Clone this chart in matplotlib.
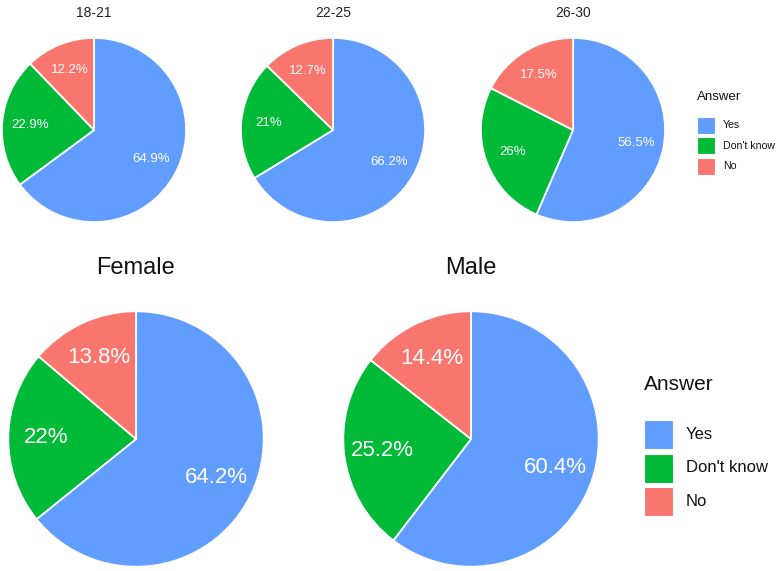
import matplotlib.pyplot as plt
from matplotlib.patches import Rectangle

plt.rcParams['font.family'] = ['Liberation Sans', 'DejaVu Sans']

answers = ["Yes", "Don't know", "No"]
colors = ["#619CFF", "#00BA38", "#F8766D"]

age_groups = ["18-21", "22-25", "26-30"]
age_yes = [64.9, 66.2, 56.5]
age_dk = [22.9, 21.0, 26.0]
age_no = [12.2, 12.7, 17.5]

genders = ["Female", "Male"]
gender_yes = [64.2, 60.4]
gender_dk = [22.0, 25.2]
gender_no = [13.8, 14.4]

W, H = 777, 571
fig = plt.figure(figsize=(W / 100, H / 100), dpi=100)


def pie_axes(cx, cy, r):
    # pixel centre / radius -> figure fraction axes
    return fig.add_axes([(cx - r) / W, (H - cy - r) / H, 2 * r / W, 2 * r / H])


def fmt(v):
    return f"{v:g}%"


def draw_pie(ax, vals, fs):
    ax.pie(vals, colors=colors, startangle=90, counterclock=False,
           labels=[fmt(v) for v in vals], labeldistance=0.7,
           wedgeprops=dict(edgecolor='white', linewidth=1.3),
           textprops=dict(color='white', fontsize=fs, ha='center', va='center'))
    ax.set_xlim(-1.01, 1.01)
    ax.set_ylim(-1.01, 1.01)
    ax.set_aspect('equal')
    ax.axis('off')


def draw_legend(x, title_y, box_y, box_w, box_h, pitch, text_dx, title_fs, fs):
    # hand-placed legend, pixel coords from top-left
    fig.text(x / W, 1 - title_y / H, 'Answer', ha='left', va='center',
             fontsize=title_fs, color='#111111')
    for k, (a, c) in enumerate(zip(answers, colors)):
        y0 = box_y + k * pitch
        fig.add_artist(Rectangle((x / W, 1 - (y0 + box_h) / H), box_w / W, box_h / H,
                                 transform=fig.transFigure, facecolor=c,
                                 edgecolor='white', linewidth=0.8))
        fig.text((x + box_w + text_dx) / W, 1 - (y0 + box_h / 2) / H, a,
                 ha='left', va='center', fontsize=fs, color='#111111')


# top row: age groups
top_cx = [94, 333, 573]
for i, g in enumerate(age_groups):
    ax = pie_axes(top_cx[i], 130, 93)
    draw_pie(ax, [age_yes[i], age_dk[i], age_no[i]], 9.5)
    fig.text(top_cx[i] / W, 1 - 13 / H, g, ha='center', va='center', fontsize=10, color='#222222')

# bottom row: gender
bot_cx = [136, 471]
for i, g in enumerate(genders):
    ax = pie_axes(bot_cx[i], 439, 129)
    draw_pie(ax, [gender_yes[i], gender_dk[i], gender_no[i]], 16)
    fig.text(bot_cx[i] / W, 1 - 268 / H, g, ha='center', va='center', fontsize=17, color='#111111')

draw_legend(697, 97, 117, 18, 17, 20.5, 8, 9.5, 7.6)
draw_legend(644, 385, 420, 29, 29, 33.5, 13, 15, 12)

fig.savefig('out.png', dpi=100, facecolor='white')
